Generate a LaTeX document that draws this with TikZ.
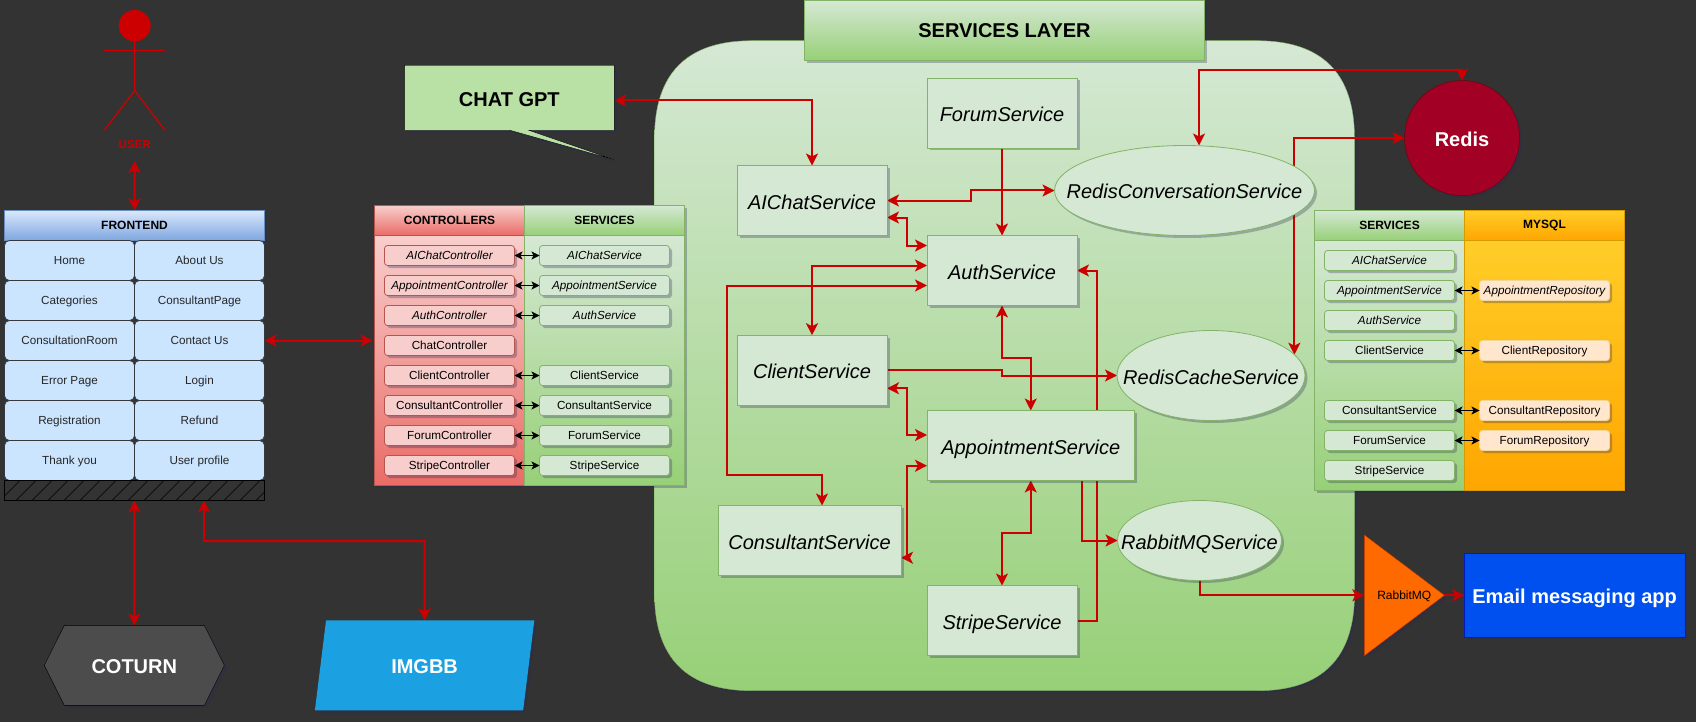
\documentclass[tikz,border=0pt]{standalone}
\usepackage{fontspec}
\usepackage{xcolor}
\setmainfont{Liberation Sans}
\usetikzlibrary{arrows.meta,positioning,shapes.geometric,shadows}
\definecolor{pageDark}{HTML}{333333}
\definecolor{wireRed}{HTML}{CC0000}
\definecolor{shadowTint}{HTML}{28285A}
\definecolor{greenEdge}{HTML}{82B366}
\definecolor{greenTop}{HTML}{D5E8D4}
\definecolor{greenLow}{HTML}{97D077}
\definecolor{redEdge}{HTML}{B85450}
\definecolor{redTop}{HTML}{F8CECC}
\definecolor{redLow}{HTML}{EA6B66}
\definecolor{orangeEdge}{HTML}{D79B00}
\definecolor{orangeTop}{HTML}{FFCD28}
\definecolor{orangeLow}{HTML}{FFA500}
\definecolor{repoFill}{HTML}{FFE6CC}
\definecolor{blueEdge}{HTML}{6C8EBF}
\definecolor{blueTop}{HTML}{DAE8FC}
\definecolor{blueLow}{HTML}{7EA6E0}
\definecolor{cellFill}{HTML}{CCE5FF}
\definecolor{cellEdge}{HTML}{36393D}
\definecolor{calloutFill}{HTML}{B9E0A5}
\definecolor{imgbbFill}{HTML}{1BA1E2}
\definecolor{redisFill}{HTML}{A20025}
\definecolor{redisEdge}{HTML}{6F0000}
\definecolor{rabbitFill}{HTML}{FF6A00}
\definecolor{rabbitEdge}{HTML}{C73500}
\definecolor{emailFill}{HTML}{0050EF}
\definecolor{emailEdge}{HTML}{001DBC}
\pgfdeclarelayer{panel}
\pgfdeclarelayer{wires}
\pgfsetlayers{panel,wires,main}
\tikzset{
	softShadow/.style = {drop shadow = {shadow xshift = 2.5pt, shadow yshift = -2.5pt, opacity = .3, fill = shadowTint}},
	flat/.style = {inner sep = 0pt, outer sep = 0pt, align = center},
	bigBold/.style = {flat, text height = 17pt, text depth = 0pt, font = \fontsize{20}{24}\selectfont\bfseries},
	svcBox/.style = {flat, rectangle, draw = greenEdge, fill = greenTop, softShadow, line width = .8pt, text height = 17pt, text depth = 0pt, font = \fontsize{20}{24}\selectfont\itshape},
	svcOval/.style = {svcBox, ellipse},
	tableHead/.style = {flat, minimum width = 150pt, minimum height = 30pt, softShadow, font = \fontsize{12}{14}\selectfont\bfseries},
	tableBody/.style = {flat, minimum width = 150pt, minimum height = 250pt, softShadow},
	greenPart/.style = {draw = greenEdge, top color = greenTop, bottom color = greenLow},
	redPart/.style = {draw = redEdge, top color = redTop, bottom color = redLow},
	orangePart/.style = {draw = orangeEdge, top color = orangeTop, bottom color = orangeLow},
	item/.style = {flat, rectangle, rounded corners = 3pt, minimum width = 130pt, minimum height = 20pt, text height = 8.5pt, text depth = 0pt, line width = .8pt, softShadow, font = \fontsize{11.7}{14}\selectfont},
	ctrlItem/.style = {item, draw = redEdge, fill = redTop},
	svcItem/.style = {item, draw = greenEdge, fill = greenTop},
	repoItem/.style = {item, draw = orangeEdge!40, fill = repoFill},
	cell/.style = {flat, rectangle, rounded corners = 5pt, minimum width = 130pt, minimum height = 40pt, text height = 8.5pt, text depth = 0pt, draw = cellEdge, fill = cellFill, line width = .7pt, text = black!85, font = \fontsize{11.7}{14}\selectfont},
	wire/.style = {draw = wireRed, line width = 2pt},
	both/.style = {wire, {Stealth[length = 12pt, width = 12pt, inset = 3pt]}-{Stealth[length = 12pt, width = 12pt, inset = 3pt]}},
	one/.style = {wire, -{Stealth[length = 12pt, width = 12pt, inset = 3pt]}},
	tiny/.style = {draw = black, line width = 1pt, {Stealth[length = 8pt, width = 8pt, inset = 2pt]}-{Stealth[length = 8pt, width = 8pt, inset = 2pt]}}
}

\begin{document}
\begin{tikzpicture}[x = 1pt, y = -1pt]
\useasboundingbox (0,0) rectangle (1696,722);

\begin{pgfonlayer}{panel}
	\fill[pageDark] (0,0) rectangle (1696,722);
	\path[softShadow, draw = greenEdge, top color = greenTop, bottom color = greenLow]
		(654.5,138.2) .. controls (654.5,73.2) and (687,40.7) .. (752,40.7)
		-- (1257,40.7) .. controls (1322,40.7) and (1354.5,73.2) .. (1354.5,138.2)
		-- (1354.5,593.2) .. controls (1354.5,658.2) and (1322,690.7) .. (1257,690.7)
		-- (752,690.7) .. controls (687,690.7) and (654.5,658.2) .. (654.5,593.2) -- cycle;
\end{pgfonlayer}

\node[flat, softShadow, greenPart, minimum width = 400pt, minimum height = 60pt, font = \fontsize{20}{24}\selectfont\bfseries] (layerHead) at (1004.5,30.5){SERVICES LAYER};

\node[ellipse, flat, fill = wireRed, minimum width = 32pt, minimum height = 31.4pt] (userHead) at (134.7,25.7){};
\draw[wireRed, line width = 1.3pt] (userHead.south) -- (134.7,90.7) -- (104.3,130.3);
\draw[wireRed, line width = 1.3pt] (134.7,90.7) -- (165,130.3);
\draw[wireRed, line width = 1.3pt] (104.3,50.6) -- (165,50.6);
\node[flat, text = wireRed, font = \fontsize{11.5}{13}\selectfont\bfseries] (userLabel) at (134.7,144.5){USER};
\coordinate (userFoot) at (134.7,161);

\node[flat, softShadow, draw = blueEdge, top color = blueTop, bottom color = blueLow, minimum width = 260pt, minimum height = 30pt, font = \fontsize{12}{14}\selectfont\bfseries] (feHead) at (134.5,225.5){FRONTEND};
\node[cell] (home) at (69.5,260.5){Home};
\node[cell, below = 0pt of home] (categories){Categories};
\node[cell, below = 0pt of categories] (consRoom){ConsultationRoom};
\node[cell, below = 0pt of consRoom] (errorPage){Error Page};
\node[cell, below = 0pt of errorPage] (registration){Registration};
\node[cell, below = 0pt of registration] (thankYou){Thank you};
\node[cell, right = 0pt of home] (aboutUs){About Us};
\node[cell, below = 0pt of aboutUs] (consPage){ConsultantPage};
\node[cell, below = 0pt of consPage] (contactUs){Contact Us};
\node[cell, below = 0pt of contactUs] (login){Login};
\node[cell, below = 0pt of login] (refund){Refund};
\node[cell, below = 0pt of refund] (userProfile){User profile};
\begin{scope}
	\clip (4.5,480.5) rectangle (264.5,500.5);
	\foreach \hatchx in {0,16,...,288}
		\draw[black, line width = .5pt] (\hatchx,500.5) -- ++(20,-20);
\end{scope}
\node[flat, draw = black, minimum width = 260pt, minimum height = 20pt, line width = .8pt] (feHatch) at (134.5,490.5){};

\draw[softShadow, draw = black, fill = black!70] (64.3,625.3) -- (204.3,625.3) -- (224.3,665.4) -- (204.3,705.4) -- (64.3,705.4) -- (44.3,665.4) -- cycle;
\node[bigBold, text = white, minimum width = 180pt, minimum height = 80pt] (coturn) at (134.3,665.4){COTURN};
\node[bigBold, trapezium, trapezium left angle = 77.5, trapezium right angle = 102.5, trapezium stretches = true, fill = imgbbFill, softShadow, text = white, minimum width = 220.7pt, minimum height = 90pt] (imgbb) at (424.6,665.4){IMGBB};

\draw[softShadow, draw = black, fill = calloutFill] (404.3,65.3) -- (614.3,65.3) -- (614.3,130.3) -- (529,130.3) -- (615,160) -- (510,130.3) -- (404.3,130.3) -- cycle;
\node[bigBold, minimum width = 210pt, minimum height = 65pt] (chatGpt) at (509.3,97.8){CHAT GPT};

\node[tableHead, redPart] (ctrlHead) at (449.5,220.5){CONTROLLERS};
\node[tableBody, redPart, below = 0pt of ctrlHead] (ctrlBody){};
\node[tableHead, greenPart, minimum width = 160pt, right = 0pt of ctrlHead] (svcHead){SERVICES};
\node[tableBody, greenPart, minimum width = 160pt, below = 0pt of svcHead] (svcBody){};
\node[ctrlItem, below = 10pt of ctrlHead, font = \fontsize{11.7}{14}\selectfont\itshape] (aiChatCtrl){AIChatController};
\node[ctrlItem, below = 10pt of aiChatCtrl, font = \fontsize{11.7}{14}\selectfont\itshape] (apptCtrl){AppointmentController};
\node[ctrlItem, below = 10pt of apptCtrl, font = \fontsize{11.7}{14}\selectfont\itshape] (authCtrl){AuthController};
\node[ctrlItem, below = 10pt of authCtrl] (chatCtrl){ChatController};
\node[ctrlItem, below = 10pt of chatCtrl] (clientCtrl){ClientController};
\node[ctrlItem, below = 10pt of clientCtrl] (consCtrl){ConsultantController};
\node[ctrlItem, below = 10pt of consCtrl] (forumCtrl){ForumController};
\node[ctrlItem, below = 10pt of forumCtrl] (stripeCtrl){StripeController};
\node[svcItem, right = 25pt of aiChatCtrl, font = \fontsize{11.7}{14}\selectfont\itshape] (aiChatItem){AIChatService};
\node[svcItem, right = 25pt of apptCtrl, font = \fontsize{11.7}{14}\selectfont\itshape] (apptItem){AppointmentService};
\node[svcItem, right = 25pt of authCtrl, font = \fontsize{11.7}{14}\selectfont\itshape] (authItem){AuthService};
\node[svcItem, right = 25pt of clientCtrl] (clientItem){ClientService};
\node[svcItem, right = 25pt of consCtrl] (consItem){ConsultantService};
\node[svcItem, right = 25pt of forumCtrl] (forumItem){ForumService};
\node[svcItem, right = 25pt of stripeCtrl] (stripeItem){StripeService};
\draw[tiny] (aiChatCtrl) -- (aiChatItem);
\draw[tiny] (apptCtrl) -- (apptItem);
\draw[tiny] (authCtrl) -- (authItem);
\draw[tiny] (clientCtrl) -- (clientItem);
\draw[tiny] (consCtrl) -- (consItem);
\draw[tiny] (forumCtrl) -- (forumItem);
\draw[tiny] (stripeCtrl) -- (stripeItem);

\node[tableHead, greenPart] (dbSvcHead) at (1389.5,225.5){SERVICES};
\node[tableBody, greenPart, below = 0pt of dbSvcHead] (dbSvcBody){};
\node[tableHead, orangePart, minimum width = 160pt, right = 0pt of dbSvcHead] (mysqlHead){MYSQL};
\node[tableBody, orangePart, minimum width = 160pt, below = 0pt of mysqlHead] (mysqlBody){};
\node[svcItem, below = 10pt of dbSvcHead, font = \fontsize{11.7}{14}\selectfont\itshape] (dbAiChat){AIChatService};
\node[svcItem, below = 10pt of dbAiChat, font = \fontsize{11.7}{14}\selectfont\itshape] (dbAppt){AppointmentService};
\node[svcItem, below = 10pt of dbAppt, font = \fontsize{11.7}{14}\selectfont\itshape] (dbAuth){AuthService};
\node[svcItem, below = 10pt of dbAuth] (dbClient){ClientService};
\node[svcItem, below = 40pt of dbClient] (dbCons){ConsultantService};
\node[svcItem, below = 10pt of dbCons] (dbForum){ForumService};
\node[svcItem, below = 10pt of dbForum] (dbStripe){StripeService};
\node[repoItem, right = 25pt of dbAppt, font = \fontsize{11.7}{14}\selectfont\itshape] (apptRepo){AppointmentRepository};
\node[repoItem, right = 25pt of dbClient] (clientRepo){ClientRepository};
\node[repoItem, right = 25pt of dbCons] (consRepo){ConsultantRepository};
\node[repoItem, right = 25pt of dbForum] (forumRepo){ForumRepository};
\draw[tiny] (dbAppt) -- (apptRepo);
\draw[tiny] (dbClient) -- (clientRepo);
\draw[tiny] (dbCons) -- (consRepo);
\draw[tiny] (dbForum) -- (forumRepo);

\node[svcBox, minimum width = 150pt, minimum height = 70pt] (forum) at (1002,113){ForumService};
\node[svcBox, minimum width = 150pt, minimum height = 70pt] (aiChat) at (812,200.5){AIChatService};
\node[svcBox, minimum width = 150pt, minimum height = 70pt] (auth) at (1002,270.5){AuthService};
\node[svcBox, minimum width = 150pt, minimum height = 70pt] (client) at (812,370.2){ClientService};
\node[svcBox, minimum width = 207.5pt, minimum height = 70pt] (appointment) at (1030.75,445.5){AppointmentService};
\node[svcBox, minimum width = 183pt, minimum height = 70pt] (consultant) at (809.5,540.5){ConsultantService};
\node[svcBox, minimum width = 150pt, minimum height = 70pt] (stripe) at (1002,620.5){StripeService};
\node[svcOval, minimum width = 260pt, minimum height = 90pt] (redisConv) at (1184.5,190.5){\makebox[0pt]{RedisConversationService}};
\node[svcOval, minimum width = 188pt, minimum height = 90pt] (redisCache) at (1211,375.5){\makebox[0pt]{RedisCacheService}};
\node[svcOval, minimum width = 164pt, minimum height = 80pt] (rabbitSvc) at (1199.5,540.5){\makebox[0pt]{RabbitMQService}};

\node[bigBold, circle, draw = redisEdge, fill = redisFill, text = white, softShadow, minimum size = 115pt] (redis) at (1462,138){Redis};
\draw[softShadow, draw = rabbitEdge, fill = rabbitFill] (1364.3,535) -- (1444.3,595.3) -- (1364.3,655.7) -- cycle;
\node[flat, minimum width = 80pt, minimum height = 120.7pt, text height = 8.5pt, text depth = 0pt, font = \fontsize{12}{14}\selectfont] (rabbitMq) at (1404.3,595.3){RabbitMQ};
\node[bigBold, draw = emailEdge, fill = emailFill, text = white, softShadow, minimum width = 220.7pt, minimum height = 84.7pt, line width = .8pt] (email) at (1574.6,595.3){Email messaging app};

\begin{pgfonlayer}{wires}
	\draw[both] (userFoot) -- (feHead.north);
	\draw[both] (feHatch.south) -- (coturn.north);
	\draw[both] ([xshift = 69.5pt]feHatch.south) |- (424.6,541) -- (imgbb.north);
	\draw[both] (contactUs.east) -- ([xshift = -2pt]ctrlBody.west |- contactUs.east);
	\draw[both] ([yshift = -2.7pt]chatGpt.east) -| (aiChat.north);
	\draw[one] (forum.south) -- (auth.north);
	\draw[both] (aiChat.east) -- ++(83.5,0) |- (redisConv.west);
	\draw[both] ([yshift = -17pt]aiChat.east) -- ++(19.7,0) |- ([yshift = 25pt]auth.west);
	\draw[both] ([yshift = 5pt]auth.west) -| (client.north);
	\draw[both] ([yshift = -15pt]auth.west) -- ++(-200.2,0) -- ++(0,189.5) -| ([xshift = 12.5pt]consultant.north);
	\draw[both] (auth.south) -- ++(0,52.2) -| (appointment.north);
	\draw[one] (client.east) -- ++(115,0) |- (redisCache.west);
	\draw[one] (stripe.east) -- ++(20,0) |- (auth.east);
	\draw[both] ([yshift = -18.1pt]client.east) -- ++(19.7,0) |- ([yshift = 10.5pt]appointment.west);
	\draw[both] ([yshift = -17.2pt]consultant.east) -- ++(5.7,0) |- ([yshift = -20.2pt]appointment.west);
	\draw[both] (appointment.south) -- ++(0,52.5) -| (stripe.north);
	\draw[one] ([xshift = 51.2pt]appointment.south) |- (rabbitSvc.west);
	\draw[one] (rabbitSvc.south) |- (rabbitMq.west);
	\draw[one] (rabbitMq.east) -- (email.west);
	\draw[both] ([xshift = 14.5pt]redisConv.north) -- ++(0,-75.5) -| (redis.north);
	\draw[both] (redis.west) -| (redisCache.14);
\end{pgfonlayer}
\end{tikzpicture}
\end{document}
